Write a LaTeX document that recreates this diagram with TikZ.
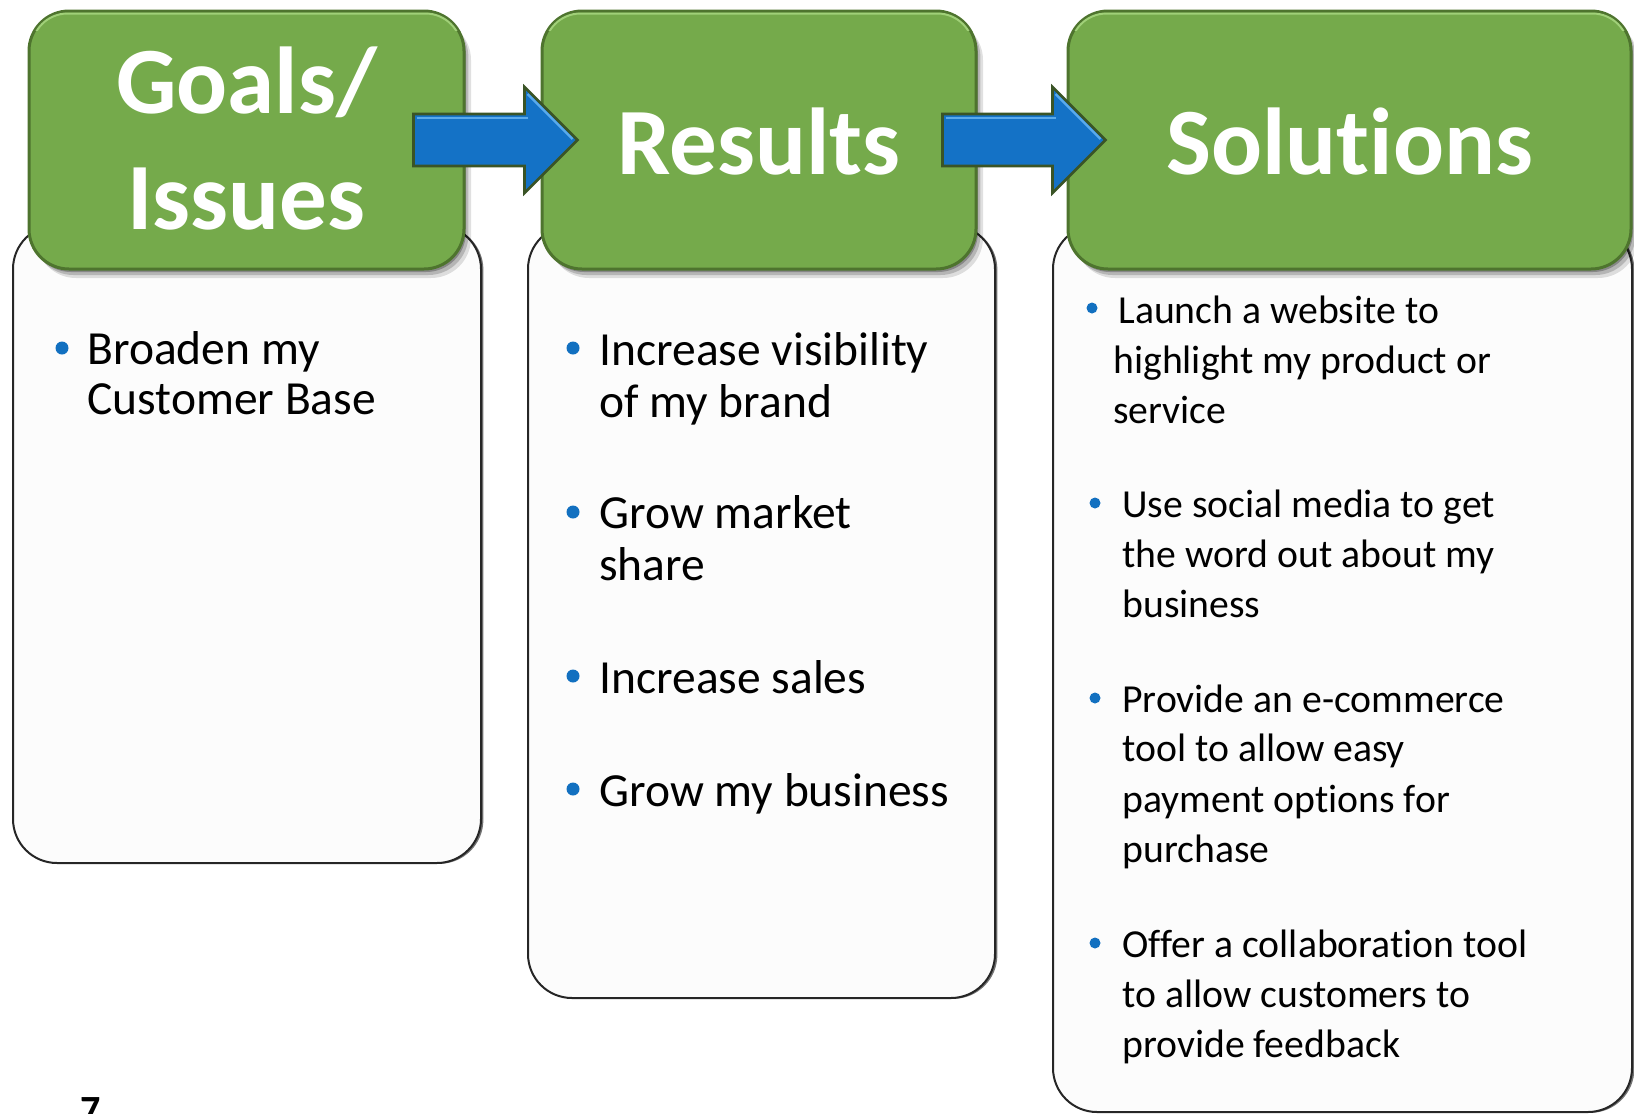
\documentclass[tikz,border=0pt]{standalone}
\usepackage{fontspec}
\setmainfont{Carlito}[Ligatures=CommonOff]
\usetikzlibrary{calc,shadows}
\newcommand{\nl}{\kern0pt{}}
\definecolor{gfill}{RGB}{117,170,75}
\definecolor{gedge}{RGB}{78,116,46}
\definecolor{glight}{RGB}{160,208,120}
\definecolor{bfill}{RGB}{20,114,198}
\definecolor{blight}{RGB}{90,170,235}
\definecolor{aedge}{RGB}{58,84,38}
\definecolor{bulletblue}{RGB}{18,112,192}
\definecolor{panel}{RGB}{252,252,252}
\begin{document}
\begin{tikzpicture}[x=0.5pt,y=-0.5pt,
  panelbox/.style={rectangle, fill=panel, draw=black!85, line width=1pt, rounded corners=22pt, inner sep=0pt,
    general shadow={fill=black!55, shadow xshift=1.2pt, shadow yshift=-0.4pt}},
  headbox/.style={rectangle, fill=gfill, draw=gedge, line width=1.5pt, rounded corners=20pt, inner sep=0pt,
    general shadow={fill=black, opacity=.12, shadow xshift=3.5pt, shadow yshift=-4.5pt},
    general shadow={fill=black, opacity=.18, shadow xshift=2.2pt, shadow yshift=-3pt},
    general shadow={fill=black, opacity=.25, shadow xshift=1pt, shadow yshift=-1.5pt}},
  headtext/.style={text=white, font=\fontsize{47.5}{50}\selectfont\bfseries, inner sep=0pt, anchor=base},
  bodytext/.style={font=\fontsize{23.75}{26}\selectfont, inner sep=0pt, anchor=base west},
  soltext/.style={font=\fontsize{19.85}{24}\selectfont, inner sep=0pt, anchor=base west},
  dot/.style={fill=bulletblue, circle, inner sep=0pt, minimum size=6.5pt},
  smalldot/.style={fill=bulletblue, circle, inner sep=0pt, minimum size=5.5pt},
  blockarrow/.style={fill=bfill, draw=aedge, line width=1.3pt, line join=miter},
  bevel/.style={draw=blight, line width=1.2pt},
]
\useasboundingbox (0,0) rectangle (1634,1114);

% panels
\node[panelbox, minimum width=234pt, minimum height=319pt] (goalspanel) at (247,544) {};
\node[panelbox, minimum width=233.5pt, minimum height=386.5pt] (resultspanel) at (761.5,611.5) {};
\node[panelbox, minimum width=289.5pt, minimum height=443.5pt] (solpanel) at (1342.5,668.5) {};

% header boxes
\node[headbox, minimum width=217.5pt, minimum height=129pt] (goals) at (246.5,140) {};
\node[headbox, minimum width=217pt, minimum height=129pt] (results) at (759,140) {};
\node[headbox, minimum width=281.5pt, minimum height=129pt] (solutions) at (1349.5,140) {};

% top highlights
\begin{scope}
\clip (0,0) rectangle (1634,30);
\foreach \b in {goals,results,solutions}{
  \draw[glight, line width=1pt, rounded corners=18pt] ($(\b.south west)+(4,-4)$) rectangle ($(\b.north east)+(-4,4)$);
}
\end{scope}

% block arrows
\coordinate (t1) at ($(goals.east)+(-52,0)$);
\coordinate (h1) at ($(results.west)+(37,0)$);
\coordinate (t2) at ($(results.east)+(-35,0)$);
\coordinate (h2) at ($(solutions.west)+(39,0)$);
\foreach \t/\h in {t1/h1,t2/h2}{
  \draw[blockarrow] ($(\t)+(0,-26)$) -- ($(\h)+(-53,-26)$) -- ($(\h)+(-53,-53)$) -- (\h)
     -- ($(\h)+(-53,53)$) -- ($(\h)+(-53,26)$) -- ($(\t)+(0,26)$) -- cycle;
  \draw[bevel] ($(\t)+(3,-22)$) -- ($(\h)+(-50,-22)$);
  \draw[bevel] ($(\h)+(-50,-46)$) -- ($(\h)+(-5,-1)$);
}

% header texts
\node[headtext] (goalsA) at (246.5,113) {Goals/};
\node[headtext] (goalsB) at (246.5,229) {Issues};
\node[headtext] (resultsT) at (759,174) {Results};
\node[headtext] (solT) at (1349.5,174) {Solut\nl ions};

% goals list
\node[dot] (gb1) at (62,348) {};
\node[bodytext] (g1a) at (87,364) {Broaden my};
\node[bodytext] (g1b) at (87,414) {Customer Base};

% results list
\node[dot] (rb1) at (573,348) {};
\node[bodytext] (r1a) at (599,365) {Increase visibility};
\node[bodytext] (r1b) at (599,417) {of my brand};
\node[dot] (rb2) at (573,512) {};
\node[bodytext] (r2a) at (599,528) {Grow market};
\node[bodytext] (r2b) at (599,580) {share};
\node[dot] (rb3) at (573,676) {};
\node[bodytext] (r3a) at (599,693) {Increase sales};
\node[dot] (rb4) at (573,789) {};
\node[bodytext] (r4a) at (599,806) {Grow my business};

% solutions list
\node[smalldot] (sb1) at (1092,308) {};
\node[soltext] (s1a) at (1118,323) {Launch a website to};
\node[soltext] (s1b) at (1113,373) {highlight my product or};
\node[soltext] (s1c) at (1113,423) {service};
\node[smalldot] (sb2) at (1095,503) {};
\node[soltext] (s2a) at (1122,517) {Use social media to get};
\node[soltext] (s2b) at (1122,567) {the word out about my};
\node[soltext] (s2c) at (1122,617) {business};
\node[smalldot] (sb3) at (1095,698) {};
\node[soltext] (s3a) at (1122,712) {Provide an e-commerce};
\node[soltext] (s3b) at (1122,761) {tool to allow easy};
\node[soltext] (s3c) at (1122,812) {payment opt\nl ions for};
\node[soltext] (s3d) at (1122,862) {purchase};
\node[smalldot] (sb4) at (1095,943) {};
\node[soltext] (s4a) at (1122,957) {Of\nl fer a collaborat\nl ion tool};
\node[soltext] (s4b) at (1122,1007) {to allow customers to};
\node[soltext] (s4c) at (1122,1057) {provide feedback};

% page number
\node[font=\fontsize{20}{24}\selectfont\bfseries, inner sep=0pt, anchor=base west] (pagenum) at (80,1123) {7};
\end{tikzpicture}
\end{document}
